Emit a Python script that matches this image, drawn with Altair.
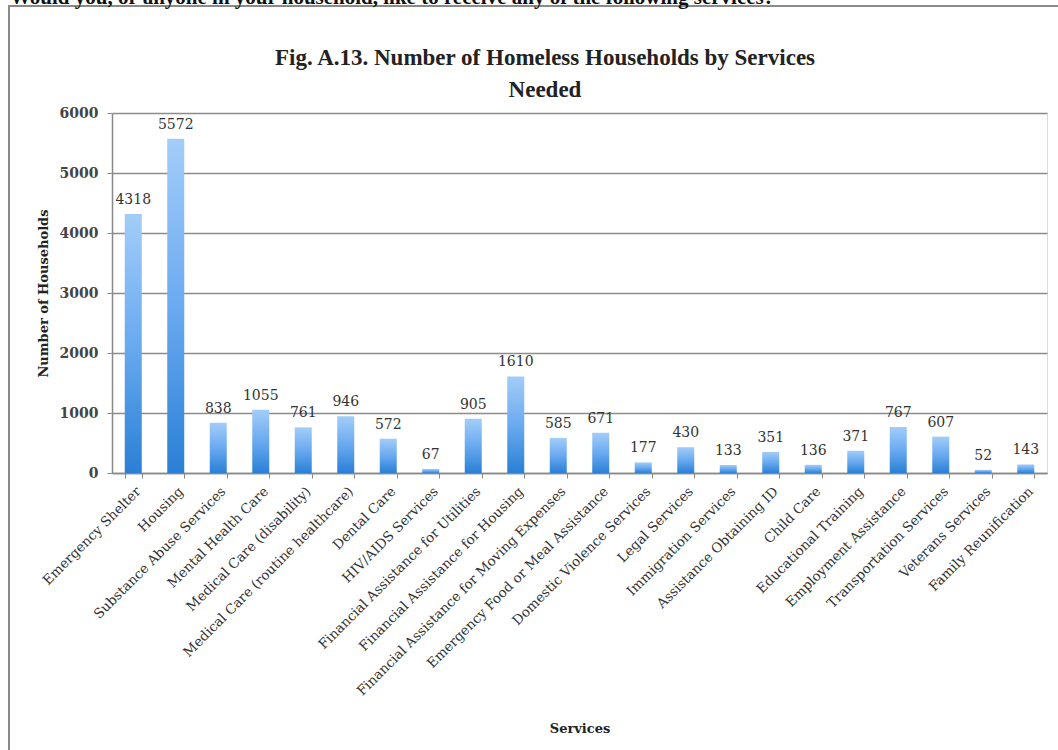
import altair as alt
import pandas as pd

services = [
    "Emergency Shelter", "Housing", "Substance Abuse Services", "Mental Health Care",
    "Medical Care (disability)", "Medical Care (routine healthcare)", "Dental Care",
    "HIV/AIDS Services", "Financial Assistance for Utilities",
    "Financial Assistance for Housing", "Financial Assistance for Moving Expenses",
    "Emergency Food or Meal Assistance", "Domestic Violence Services", "Legal Services",
    "Immigration Services", "Assistance Obtaining ID", "Child Care",
    "Educational Training", "Employment Assistance", "Transportation Services",
    "Veterans Services", "Family Reunification",
]
households = [4318, 5572, 838, 1055, 761, 946, 572, 67, 905, 1610, 585, 671,
              177, 430, 133, 351, 136, 371, 767, 607, 52, 143]
y_ticks = [0, 1000, 2000, 3000, 4000, 5000, 6000]
title_line1 = ["Fig. A.13. Number of Homeless Households by Services"]
title_line2 = ["Needed"]
top_caption = ["Would you, or anyone in your household, like to receive any of the following services?"]

df = pd.DataFrame({"Services": services, "Households": households})

SERIF = "DejaVu Serif"
TITLE_FONT = "Liberation Serif"

x_enc = alt.X("Services:N", sort=services, title="Services",
              scale=alt.Scale(paddingInner=0.6, paddingOuter=0.3),
              axis=alt.Axis(labelAngle=-45, labelAlign="right", labelBaseline="top",
                            labelFont=SERIF, labelFontSize=13.5, labelColor="#333",
                            labelPadding=6, labelLimit=400, tickBand="extent",
                            tickColor="#888", tickSize=5, domainColor="#888",
                            domainWidth=1.5, grid=False,
                            titleFont=SERIF, titleFontSize=13, titleFontWeight="bold",
                            titleColor="#222", titlePadding=0, titleY=249))
y_enc = alt.Y("Households:Q", title="Number of Households",
              scale=alt.Scale(domain=[0, 6000], nice=False),
              axis=alt.Axis(values=y_ticks, format="d", labelFont=SERIF, labelFontSize=14,
                            labelFontWeight=600, labelColor="#444", labelPadding=9,
                            tickColor="#888", tickSize=5,
                            domainColor="#888", domainWidth=1.5, gridColor="#8c8c8c",
                            gridWidth=1.3, titleFont=SERIF, titleFontSize=13,
                            titleFontWeight="bold", titleColor="#222", titlePadding=9))

gradient = alt.Gradient(
    gradient="linear",
    stops=[alt.GradientStop(color="#a3cdf8", offset=0),
           alt.GradientStop(color="#6aaaf0", offset=0.5),
           alt.GradientStop(color="#2a80d6", offset=1)],
    x1=0, x2=0, y1=0, y2=1,
)

bars = alt.Chart(df).mark_bar(color=gradient).encode(x=x_enc, y=y_enc)

labels = alt.Chart(df).mark_text(baseline="bottom", dy=-7, font=SERIF, fontSize=14,
                                  color="#333").encode(
    x=alt.X("Services:N", sort=services), y="Households:Q", text="Households:Q")

border = alt.Chart(pd.DataFrame({"a": [0]})).mark_rect(
    fill=None, stroke="#8a8a8a", strokeWidth=2).encode(
    x=alt.value(-103), x2=alt.value(1000), y=alt.value(-107), y2=alt.value(700))

caption = alt.Chart(pd.DataFrame({"t": top_caption})).mark_text(
    align="left", baseline="alphabetic", font=TITLE_FONT, fontSize=21,
    fontWeight="bold", color="#111").encode(
    x=alt.value(-102), y=alt.value(-109), text="t:N")

title1 = alt.Chart(pd.DataFrame({"t": title_line1})).mark_text(
    align="center", baseline="middle", font=TITLE_FONT, fontSize=23,
    fontWeight="bold", color="#222").encode(
    x=alt.value(433), y=alt.value(-55), text="t:N")
title2 = alt.Chart(pd.DataFrame({"t": title_line2})).mark_text(
    align="center", baseline="middle", font=TITLE_FONT, fontSize=23,
    fontWeight="bold", color="#222").encode(
    x=alt.value(433), y=alt.value(-23), text="t:N")

chart = alt.layer(border, caption, title1, title2, bars, labels).properties(
    width=935, height=360,
    autosize=alt.AutoSizeParams(type="none"),
    padding={"left": 112, "top": 113, "right": 11, "bottom": 277},
).configure_view(stroke=None).configure(background="white")

chart.save("out.html", embed_options={"renderer": "svg", "actions": False})
